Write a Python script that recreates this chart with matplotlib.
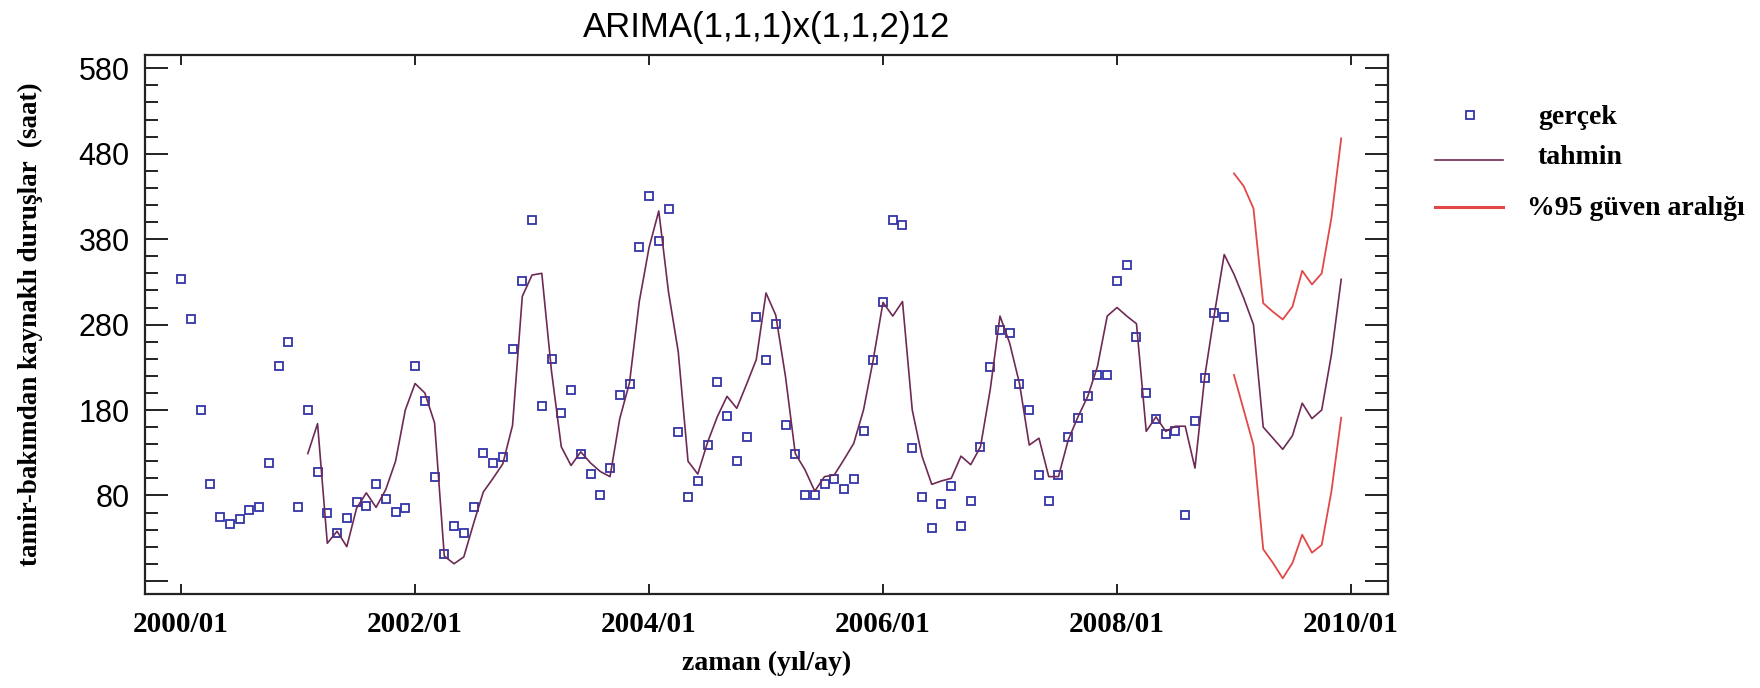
import numpy as np
import matplotlib.pyplot as plt

# aylik gercek degerler, 2000/01 - 2008/12 (saat)
gercek = [333, 287, 180, 93, 55, 46, 52, 63, 67, 118, 232, 260,
          66, 180, 108, 59, 36, 53, 72, 68, 93, 76, 61, 65,
          232, 190, 101, 11, 44, 36, 67, 130, 118, 125, 251, 331,
          403, 185, 240, 177, 203, 129, 105, 80, 112, 198, 211, 371,
          430, 378, 415, 154, 78, 97, 139, 213, 173, 120, 148, 289,
          238, 281, 162, 129, 80, 80, 93, 99, 88, 99, 156, 238,
          306, 403, 397, 136, 78, 42, 70, 91, 44, 74, 137, 230,
          274, 270, 211, 180, 104, 74, 104, 148, 171, 196, 221, 221,
          331, 350, 265, 200, 169, 152, 155, 57, 167, 218, 293, 289]

# model tahmini, 2001/02 - 2009/12
tahmin = [129, 164, 24, 38, 20, 65, 83, 66, 87, 120, 180,
          211, 200, 165, 9, 0, 8, 47, 84, 100, 117, 162, 313,
          338, 340, 225, 137, 115, 131, 118, 108, 102, 170, 212, 307,
          370, 413, 318, 248, 120, 105, 142, 172, 196, 182, 210, 239,
          317, 291, 219, 129, 110, 85, 102, 104, 122, 141, 180, 239,
          306, 290, 307, 180, 126, 93, 97, 100, 126, 116, 137, 204,
          290, 258, 211, 139, 147, 102, 102, 145, 172, 196, 231, 290,
          300, 290, 281, 155, 172, 155, 161, 161, 112, 219, 293, 362,
          339, 311, 280, 160, 147, 134, 150, 188, 170, 180, 245, 333]

# %95 guven araligi, 2009/01 - 2009/12
ust_sinir = [457, 442, 416, 305, 295, 286, 301, 343, 327, 340, 405, 498]
alt_sinir = [221, 180, 139, 17, 1, -17, 1, 34, 13, 22, 85, 171]

# serilerin basladigi ay (2000/01 = 0)
gercek_bas = 0
tahmin_bas = 13
aralik_bas = 108

x_ticks = [0, 24, 48, 72, 96, 120]
x_labels = ['2000/01', '2002/01', '2004/01', '2006/01', '2008/01', '2010/01']
y_ticks = [-20, 80, 180, 280, 380, 480, 580]
y_labels = ['', '80', '180', '280', '380', '480', '580']

mavi = '#3434a8'
mor = '#6e2a55'
kirmizi = '#e24848'
serif = 'Liberation Serif'

W, H = 1760, 688
fig = plt.figure(figsize=(W / 100, H / 100), dpi=100)
ax = fig.add_axes([145 / W, 1 - 594 / H, (1388 - 145) / W, (594 - 55) / H])

x_g = np.arange(len(gercek)) + gercek_bas
x_t = np.arange(len(tahmin)) + tahmin_bas
x_a = np.arange(len(ust_sinir)) + aralik_bas

ax.plot(x_g, gercek, ls='none', marker='s', ms=5.5, mfc='none', mec=mavi, mew=1.3)
ax.plot(x_t, tahmin, color=mor, lw=1.2)
ax.plot(x_a, ust_sinir, color=kirmizi, lw=1.3)
ax.plot(x_a, alt_sinir, color=kirmizi, lw=1.3)

ax.set_xlim(-3.7, 123.8)
ax.set_ylim(-35.4, 595.6)

ax.set_xticks(x_ticks)
ax.set_xticklabels(x_labels, fontfamily=serif, fontweight='bold', fontsize=21)
ax.set_yticks(y_ticks)
ax.set_yticklabels(y_labels, fontfamily='Liberation Sans', fontsize=22)
ax.set_yticks(np.arange(-20, 581, 20), minor=True)

ax.tick_params(axis='x', which='major', direction='in', top=True, length=7,
               width=1.4, pad=12, color='#222222')
ax.tick_params(axis='y', which='major', direction='in', right=True, length=16.5,
               width=1.4, pad=11, color='#222222')
ax.tick_params(axis='y', which='minor', direction='in', right=True, length=9.5,
               width=1.4, color='#222222')
for s in ax.spines.values():
    s.set_linewidth(1.6)
    s.set_color('#222222')

ax.set_title('ARIMA(1,1,1)x(1,1,2)12', fontfamily='Liberation Sans', fontsize=25, pad=13)
ax.set_xlabel('zaman (yıl/ay)', fontfamily=serif, fontweight='bold', fontsize=20)
ax.xaxis.set_label_coords(0.5, -0.105)
ax.set_ylabel('tamir-bakımdan kaynaklı duruşlar  (saat)', fontfamily=serif,
              fontweight='bold', fontsize=19.5)
ax.yaxis.set_label_coords(-0.082, 0.5)

# lejant: piksel koordinatlari ile ayri bir eksende
lax = fig.add_axes([1400 / W, 1 - 240 / H, 360 / W, 160 / H])
lax.set_xlim(1400, 1760)
lax.set_ylim(240, 80)
lax.axis('off')
lax.plot([1470], [115], ls='none', marker='s', ms=5.5, mfc='none', mec=mavi, mew=1.3)
lax.plot([1435, 1503], [160, 160], color=mor, lw=1.2)
lax.plot([1435, 1503], [207, 207], color=kirmizi, lw=2.2)
yazi = dict(fontfamily=serif, fontweight='bold', fontsize=20, va='center', ha='left')
lax.text(1538, 117, 'gerçek', **yazi)
lax.text(1537, 158, 'tahmin', **yazi)
lax.text(1527, 209, '%95 güven aralığı', **yazi)

fig.savefig('out.png', dpi=100)
